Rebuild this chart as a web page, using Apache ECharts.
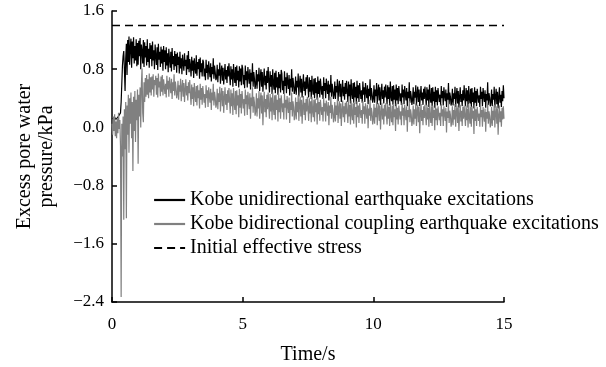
<!DOCTYPE html>
<html>
<head>
<meta charset="utf-8">
<script src="https://cdn.jsdelivr.net/npm/echarts@6/dist/echarts.min.js"></script>
<style>
html,body{margin:0;padding:0;background:#fff;}
#chart{width:606px;height:367px;}
</style>
</head>
<body>
<div id="chart"></div>
<script>
// Sampling of the records (s)
const timeStep = 0.025;

// Kobe unidirectional earthquake excitations (kPa), one value per 0.025 s (20 values per 0.5 s row)
const unidirectional = [
  0.12,0.13,0.11,0.12,0.14,0.12,0.11,0.13,0.12,0.14,0.12,0.13,0.13,0.20,0.35,0.60,0.85,0.98,1.05,0.80,
  0.50,0.95,1.15,0.72,1.20,0.90,1.25,0.86,1.10,1.22,0.82,1.18,0.95,1.24,0.88,1.12,0.92,1.21,0.84,1.16,
  0.86,1.19,0.98,1.23,0.80,1.14,1.05,0.88,1.20,0.83,1.17,0.96,1.12,0.85,1.21,0.90,1.08,0.82,1.16,0.94,
  1.13,0.84,1.18,0.92,1.06,0.80,1.14,0.98,0.86,1.10,0.79,1.15,0.93,1.04,0.83,1.11,0.88,1.07,0.78,1.12,
  0.90,1.06,0.80,1.10,0.85,1.02,0.76,1.08,0.94,0.82,1.04,0.77,1.09,0.87,0.98,0.79,1.05,0.84,1.01,0.75,
  1.03,0.86,0.97,0.74,1.04,0.81,0.95,0.73,1.00,0.88,0.78,1.02,0.84,0.93,0.72,0.99,0.80,1.05,0.76,0.94,
  0.85,0.70,0.97,0.78,0.92,0.68,0.95,0.82,0.74,0.99,0.71,0.90,0.80,0.94,0.67,0.96,0.76,0.88,0.70,0.93,
  0.90,0.70,0.81,0.65,0.93,0.75,0.86,0.66,0.91,0.79,0.69,0.88,0.63,0.83,0.73,0.95,0.67,0.85,0.76,0.65,
  0.68,0.86,0.62,0.80,0.71,0.89,0.60,0.77,0.85,0.64,0.82,0.59,0.74,0.87,0.66,0.79,0.61,0.84,0.70,0.88,
  0.72,0.58,0.84,0.66,0.80,0.56,0.87,0.70,0.61,0.83,0.57,0.85,0.65,0.78,0.55,0.84,0.63,0.81,0.58,0.86,
  0.81,0.59,0.72,0.54,0.85,0.65,0.77,0.55,0.83,0.70,0.60,0.80,0.52,0.75,0.63,0.88,0.56,0.76,0.67,0.53,
  0.60,0.79,0.53,0.73,0.63,0.82,0.50,0.70,0.80,0.56,0.76,0.49,0.66,0.81,0.58,0.71,0.52,0.78,0.61,0.83,
  0.63,0.48,0.77,0.56,0.72,0.46,0.80,0.60,0.52,0.75,0.47,0.78,0.55,0.69,0.45,0.76,0.54,0.73,0.48,0.79,
  0.74,0.51,0.64,0.46,0.77,0.57,0.69,0.47,0.75,0.62,0.53,0.72,0.44,0.67,0.55,0.80,0.49,0.68,0.59,0.46,
  0.52,0.70,0.45,0.64,0.55,0.74,0.42,0.61,0.71,0.48,0.67,0.41,0.58,0.73,0.50,0.63,0.44,0.69,0.53,0.72,
  0.55,0.41,0.69,0.49,0.65,0.39,0.71,0.53,0.45,0.67,0.40,0.68,0.47,0.62,0.38,0.70,0.46,0.64,0.41,0.67,
  0.66,0.45,0.57,0.39,0.69,0.50,0.61,0.40,0.67,0.55,0.46,0.64,0.37,0.59,0.48,0.72,0.42,0.60,0.52,0.39,
  0.45,0.63,0.39,0.57,0.48,0.66,0.36,0.54,0.64,0.42,0.60,0.35,0.51,0.65,0.43,0.56,0.38,0.61,0.46,0.64,
  0.49,0.35,0.63,0.43,0.59,0.33,0.66,0.47,0.39,0.61,0.34,0.62,0.41,0.56,0.32,0.64,0.40,0.58,0.35,0.61,
  0.60,0.39,0.51,0.34,0.63,0.45,0.55,0.35,0.61,0.49,0.40,0.58,0.32,0.53,0.43,0.66,0.37,0.54,0.46,0.34,
  0.40,0.58,0.34,0.52,0.43,0.61,0.32,0.49,0.59,0.37,0.55,0.31,0.46,0.60,0.39,0.51,0.33,0.56,0.41,0.59,
  0.45,0.32,0.58,0.39,0.55,0.30,0.63,0.43,0.36,0.57,0.31,0.58,0.38,0.52,0.29,0.59,0.37,0.54,0.32,0.57,
  0.56,0.36,0.47,0.31,0.59,0.41,0.52,0.32,0.57,0.45,0.37,0.54,0.29,0.49,0.40,0.62,0.34,0.50,0.43,0.31,
  0.38,0.55,0.32,0.49,0.41,0.58,0.30,0.46,0.56,0.35,0.52,0.29,0.44,0.57,0.37,0.48,0.31,0.53,0.39,0.56,
  0.42,0.30,0.55,0.37,0.52,0.28,0.59,0.41,0.34,0.54,0.29,0.55,0.36,0.49,0.27,0.56,0.35,0.51,0.30,0.54,
  0.54,0.35,0.45,0.30,0.57,0.40,0.50,0.30,0.55,0.44,0.36,0.52,0.28,0.47,0.38,0.61,0.32,0.48,0.42,0.30,
  0.36,0.53,0.30,0.47,0.39,0.56,0.28,0.44,0.54,0.33,0.50,0.27,0.42,0.55,0.35,0.46,0.29,0.51,0.37,0.58,
  0.41,0.29,0.54,0.36,0.51,0.27,0.57,0.40,0.33,0.53,0.28,0.54,0.35,0.48,0.26,0.55,0.34,0.50,0.29,0.53,
  0.53,0.34,0.44,0.28,0.56,0.39,0.49,0.29,0.54,0.43,0.35,0.51,0.27,0.46,0.37,0.62,0.31,0.47,0.41,0.29,
  0.35,0.52,0.29,0.46,0.38,0.56,0.27,0.43,0.53,0.32,0.49,0.26,0.41,0.55,0.34,0.45,0.28,0.50,0.36,0.58,
  0.40
];

// Kobe bidirectional coupling earthquake excitations (kPa), one value per 0.025 s
const bidirectional = [
  0.05,-0.10,0.15,-0.05,0.18,-0.12,0.08,-0.15,0.12,-0.08,0.20,-0.02,0.10,-0.25,-2.33,0.05,-0.40,0.15,-1.27,0.25,
  -0.30,0.35,-1.25,0.30,-0.10,0.45,-0.35,0.40,0.05,0.48,-0.15,0.35,-0.60,0.42,-0.05,0.50,-0.20,0.38,0.10,0.52,
  -0.50,0.45,0.15,0.55,0.00,0.60,0.81,0.20,0.07,0.62,0.35,0.68,0.42,0.72,0.45,0.66,0.40,0.74,0.48,0.69,
  0.44,0.70,0.52,0.73,0.42,0.65,0.58,0.71,0.45,0.68,0.41,0.74,0.55,0.63,0.43,0.70,0.49,0.72,0.44,0.66,
  0.68,0.46,0.60,0.41,0.71,0.52,0.64,0.42,0.69,0.57,0.47,0.67,0.39,0.62,0.50,0.73,0.44,0.63,0.54,0.40,
  0.46,0.64,0.38,0.58,0.49,0.67,0.36,0.55,0.65,0.42,0.61,0.35,0.52,0.66,0.44,0.57,0.37,0.62,0.47,0.65,
  0.45,0.31,0.59,0.39,0.55,0.29,0.61,0.44,0.35,0.57,0.30,0.58,0.40,0.51,0.26,0.60,0.38,0.54,0.31,0.57,
  0.56,0.34,0.46,0.27,0.58,0.40,0.51,0.28,0.55,0.44,0.34,0.53,0.24,0.48,0.37,0.60,0.30,0.49,0.41,0.27,
  0.32,0.53,0.25,0.47,0.35,0.56,0.22,0.44,0.54,0.29,0.50,0.20,0.41,0.55,0.31,0.46,0.24,0.51,0.34,0.54,
  0.36,0.19,0.52,0.29,0.47,0.17,0.54,0.34,0.24,0.50,0.18,0.51,0.30,0.44,0.14,0.53,0.27,0.46,0.19,0.50,
  0.50,0.26,0.39,0.16,0.52,0.32,0.44,0.17,0.49,0.36,0.25,0.47,0.12,0.41,0.29,0.55,0.20,0.42,0.34,0.16,
  0.22,0.47,0.15,0.40,0.26,0.50,0.12,0.37,0.48,0.19,0.44,0.03,0.33,0.49,0.21,0.39,0.14,0.45,0.25,0.48,
  0.29,0.12,0.46,0.22,0.41,0.10,0.48,0.27,0.17,0.44,0.11,0.45,0.24,0.38,0.08,0.47,0.21,0.40,0.12,0.44,
  0.44,0.21,0.33,0.11,0.46,0.27,0.38,0.11,0.43,0.30,0.20,0.41,0.06,0.35,0.24,0.48,0.15,0.36,0.28,0.10,
  0.18,0.41,0.11,0.35,0.21,0.44,0.09,0.32,0.42,0.15,0.38,0.05,0.29,0.43,0.17,0.34,0.10,0.39,0.22,0.42,
  0.25,0.09,0.40,0.19,0.36,0.07,0.42,0.23,0.14,0.38,0.08,0.39,0.21,0.33,0.04,0.41,0.18,0.35,0.09,0.38,
  0.38,0.17,0.28,0.08,0.40,0.22,0.33,0.08,0.37,0.26,0.16,0.35,0.03,0.30,0.20,0.42,0.12,0.31,0.24,0.07,
  0.14,0.35,0.08,0.30,0.17,0.38,0.06,0.27,0.36,0.12,0.33,0.02,0.24,0.37,0.14,0.29,0.07,0.34,0.18,0.36,
  0.21,0.06,0.35,0.15,0.31,0.04,0.37,0.19,0.10,0.33,0.05,0.34,0.17,0.28,0.00,0.36,0.14,0.30,0.06,0.33,
  0.34,0.13,0.24,0.05,0.36,0.18,0.29,0.05,0.33,0.22,0.12,0.31,-0.01,0.26,0.16,0.38,0.09,0.27,0.20,0.04,
  0.11,0.32,0.05,0.27,0.14,0.35,0.03,0.24,0.33,0.09,0.30,-0.03,0.21,0.34,0.11,0.26,0.04,0.31,0.15,0.33,
  0.18,0.04,0.32,0.12,0.28,0.02,0.34,0.16,0.07,0.30,0.03,0.31,0.14,0.25,-0.05,0.33,0.11,0.27,0.04,0.30,
  0.32,0.11,0.22,0.03,0.34,0.16,0.27,0.03,0.31,0.20,0.10,0.29,-0.06,0.24,0.14,0.36,0.07,0.25,0.18,0.02,
  0.09,0.30,0.04,0.25,0.12,0.33,0.02,0.22,0.31,0.07,0.28,-0.08,0.19,0.32,0.09,0.24,0.03,0.29,0.13,0.31,
  0.16,0.03,0.31,0.11,0.27,0.01,0.33,0.15,0.06,0.29,0.02,0.30,0.13,0.24,-0.04,0.32,0.10,0.26,0.03,0.29,
  0.30,0.10,0.20,0.02,0.32,0.15,0.25,0.02,0.29,0.19,0.09,0.27,-0.07,0.22,0.13,0.34,0.06,0.23,0.17,0.01,
  0.08,0.29,0.03,0.24,0.11,0.32,0.01,0.21,0.30,0.06,0.27,-0.05,0.18,0.31,0.08,0.23,0.02,0.28,0.12,0.30,
  0.15,0.02,0.30,0.10,0.26,0.00,0.32,0.14,0.05,0.28,0.01,0.29,0.12,0.23,-0.09,0.31,0.09,0.25,0.02,0.28,
  0.29,0.09,0.19,0.01,0.31,0.14,0.24,0.01,0.28,0.18,0.08,0.26,-0.06,0.21,0.12,0.33,0.05,0.22,0.16,0.00,
  0.07,0.28,0.02,0.23,0.10,0.31,0.00,0.20,0.29,0.05,0.26,-0.10,0.17,0.30,0.07,0.22,0.01,0.27,0.11,0.29,
  0.12
];

// Initial effective stress (kPa) over the record
const stressTimes = [0, 15];
const initialStress = [1.4, 1.4];

// Axis ticks
const xTicks = [0, 5, 10, 15];
const yTicks = [-2.4, -1.6, -0.8, 0.0, 0.8, 1.6];

const seriesNames = [
  'Kobe unidirectional earthquake excitations',
  'Kobe bidirectional coupling earthquake excitations',
  'Initial effective stress'
];

const toPairs = arr => arr.map((v, i) => [+(i * timeStep).toFixed(3), v]);

const font = '"Liberation Serif", "Times New Roman", serif';
const chart = echarts.init(document.getElementById('chart'), null, {renderer: 'canvas'});

chart.setOption({
  animation: false,
  backgroundColor: '#fff',
  grid: {left: 112, right: 102, top: 11, bottom: 65, containLabel: false, outerBoundsMode: 'none'},
  legend: {
    orient: 'vertical',
    left: 148,
    top: 185,
    itemWidth: 31,
    itemHeight: 20,
    itemGap: 4,
    data: seriesNames,
    itemStyle: {opacity: 0},
    lineStyle: {width: 2.2},
    textStyle: {fontFamily: font, fontSize: 20, color: '#000', lineHeight: 20}
  },
  xAxis: {
    type: 'value',
    min: xTicks[0],
    max: xTicks[xTicks.length - 1],
    interval: 5,
    name: 'Time/s',
    nameLocation: 'middle',
    nameGap: 43,
    nameTextStyle: {fontFamily: font, fontSize: 20, color: '#000'},
    axisLine: {show: true, onZero: false, lineStyle: {color: '#000', width: 1.5}},
    axisTick: {show: true, inside: true, length: 5, lineStyle: {color: '#000', width: 1.5}},
    axisLabel: {fontFamily: font, fontSize: 17, color: '#000', margin: 14},
    splitLine: {show: false}
  },
  yAxis: {
    type: 'value',
    min: yTicks[0],
    max: yTicks[yTicks.length - 1],
    interval: 0.8,
    name: 'Excess pore water\npressure/kPa',
    nameLocation: 'middle',
    nameGap: 54,
    nameTextStyle: {fontFamily: font, fontSize: 20, color: '#000', lineHeight: 22, align: 'center'},
    axisLine: {show: true, onZero: false, lineStyle: {color: '#000', width: 1.5}},
    axisTick: {show: true, inside: true, length: 5, lineStyle: {color: '#000', width: 1.5}},
    axisLabel: {
      fontFamily: font, fontSize: 17, color: '#000', margin: 8,
      formatter: v => (v < 0 ? '\u2212' : '') + Math.abs(v).toFixed(1)
    },
    splitLine: {show: false}
  },
  series: [
    {
      name: seriesNames[0],
      type: 'line',
      data: toPairs(unidirectional),
      showSymbol: false,
      symbol: 'none',
      lineStyle: {color: '#000', width: 1.2},
      itemStyle: {color: '#000'},
      z: 2
    },
    {
      name: seriesNames[1],
      type: 'line',
      data: toPairs(bidirectional),
      showSymbol: false,
      symbol: 'none',
      lineStyle: {color: '#808080', width: 1.2},
      itemStyle: {color: '#808080'},
      z: 3
    },
    {
      name: seriesNames[2],
      type: 'line',
      data: stressTimes.map((t, i) => [t, initialStress[i]]),
      showSymbol: false,
      symbol: 'none',
      lineStyle: {color: '#000', width: 1.5, type: [8, 5]},
      itemStyle: {color: '#000'},
      z: 4
    }
  ]
});
</script>
</body>
</html>
